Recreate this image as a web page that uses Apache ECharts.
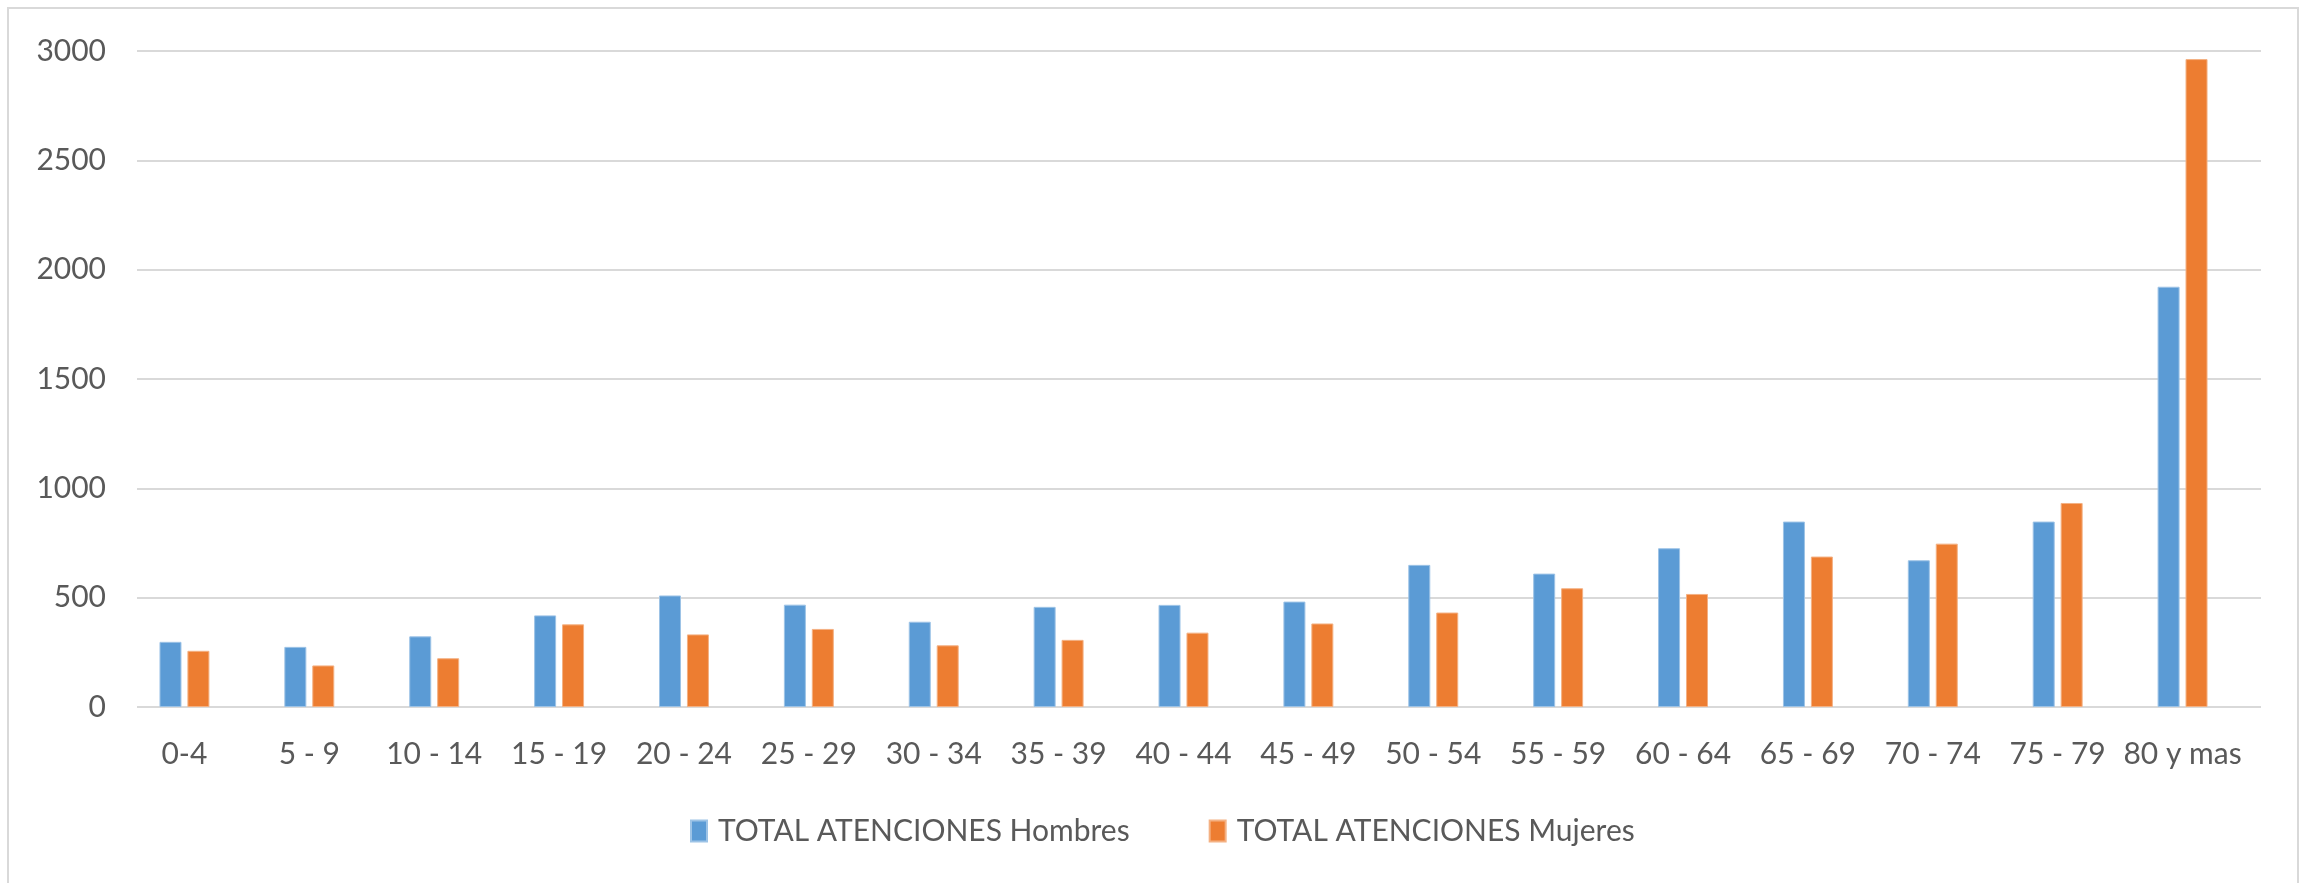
<!DOCTYPE html>
<html>
<head>
<meta charset="utf-8">
<script src="https://cdn.jsdelivr.net/npm/echarts@6/dist/echarts.min.js"></script>
<style>
  html, body { margin: 0; padding: 0; background: #ffffff; }
  #chart { width: 2310px; height: 883px; }
</style>
</head>
<body>
<div id="chart"></div>
<script>
const categories = ['0-4', '5 - 9', '10 - 14', '15 - 19', '20 - 24', '25 - 29', '30 - 34', '35 - 39', '40 - 44', '45 - 49', '50 - 54', '55 - 59', '60 - 64', '65 - 69', '70 - 74', '75 - 79', '80 y mas'];
const hombres = [298, 275, 323, 419, 510, 468, 390, 458, 467, 482, 650, 610, 726, 848, 671, 848, 1922];
const mujeres = [257, 190, 223, 378, 332, 357, 282, 307, 340, 382, 432, 543, 517, 688, 747, 933, 2963];
const seriesNames = ['TOTAL ATENCIONES Hombres', 'TOTAL ATENCIONES Mujeres'];
const yTicks = { min: 0, max: 3000, interval: 500 };

const FONT = 'Lato';
const FS = 30;
const TXT = '#595959';
const GRIDC = '#d9d9d9';

const chart = echarts.init(document.getElementById('chart'), null, { renderer: 'canvas' });
chart.setOption({
  animation: false,
  backgroundColor: '#ffffff',
  textStyle: { fontFamily: FONT },
  graphic: [{
    type: 'rect',
    silent: true,
    z: -10,
    shape: { x: 8, y: 8, width: 2290, height: 900 },
    style: { fill: 'none', stroke: GRIDC, lineWidth: 2 }
  }],
  grid: [
    { left: 122, right: 65, top: 51, bottom: 176, containLabel: false },
    { left: 137, right: 49, top: 51, bottom: 176, containLabel: false }
  ],
  legend: {
    bottom: 32,
    left: 685,
    itemWidth: 16,
    itemHeight: 21,
    itemGap: 79,
    icon: 'rect',
    textStyle: { fontFamily: FONT, fontSize: FS, color: TXT, padding: [0, 0, 0, 6] },
    data: seriesNames
  },
  xAxis: [
    {
      gridIndex: 0,
      type: 'category',
      data: categories,
      axisLine: { show: false },
      axisTick: { show: false },
      splitLine: { show: false },
      axisLabel: { color: TXT, fontSize: FS, fontFamily: FONT, margin: 32, interval: 0 }
    },
    {
      gridIndex: 1,
      type: 'value',
      show: false,
      min: 0,
      max: 1
    }
  ],
  yAxis: [
    {
      gridIndex: 0,
      type: 'value',
      min: yTicks.min,
      max: yTicks.max,
      interval: yTicks.interval,
      show: false
    },
    {
      gridIndex: 1,
      type: 'value',
      min: yTicks.min,
      max: yTicks.max,
      interval: yTicks.interval,
      axisLine: { show: false },
      axisTick: { show: false },
      splitLine: { show: true, lineStyle: { color: GRIDC, width: 2 } },
      axisLabel: { color: TXT, fontSize: FS, fontFamily: FONT, margin: 31, formatter: v => String(v) }
    }
  ],
  series: [
    {
      name: seriesNames[0],
      type: 'bar',
      xAxisIndex: 0,
      yAxisIndex: 0,
      data: hombres,
      barWidth: 22,
      barGap: '27%',
      itemStyle: { color: '#5B9BD5', borderColor: '#9dc3e6', borderWidth: 1 }
    },
    {
      name: seriesNames[1],
      type: 'bar',
      xAxisIndex: 0,
      yAxisIndex: 0,
      data: mujeres,
      barWidth: 22,
      itemStyle: { color: '#ED7D31', borderColor: '#f4b183', borderWidth: 1 }
    }
  ]
});
</script>
</body>
</html>
